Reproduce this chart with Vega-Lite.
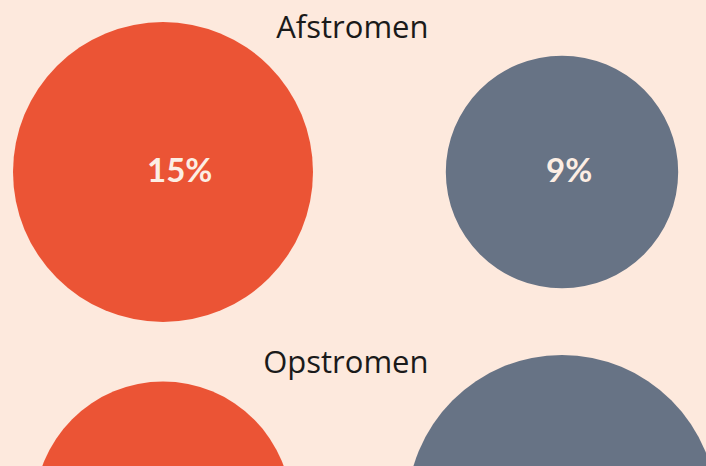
{
  "$schema": "https://vega.github.io/schema/vega-lite/v6.json",
  "width": 706,
  "height": 466,
  "padding": 0,
  "autosize": {"type": "fit", "contains": "padding"},
  "background": "#FDE9DD",
  "config": {"view": {"stroke": null}},
  "data": {
    "values": [
      {"stroom": "Afstromen", "reeks": "A", "waarde": 15, "label": "15%"},
      {"stroom": "Afstromen", "reeks": "B", "waarde": 9, "label": "9%"},
      {"stroom": "Opstromen", "reeks": "A", "waarde": 11, "label": "11%"},
      {"stroom": "Opstromen", "reeks": "B", "waarde": 16, "label": "16%"}
    ]
  },
  "encoding": {
    "y": {"field": "stroom", "type": "nominal", "scale": {"type": "point", "domain": ["Afstromen", "Opstromen"], "range": [172, 510], "padding": 0}, "axis": null}
  },
  "layer": [
    {
      "mark": {"type": "point", "shape": "circle", "filled": true, "opacity": 1, "clip": false},
      "encoding": {
        "x": {"field": "reeks", "type": "nominal", "scale": {"type": "point", "domain": ["A", "B"], "range": [163, 562], "padding": 0}, "axis": null},
        "size": {"field": "waarde", "type": "quantitative", "scale": {"domain": [0, 15], "range": [0, 90000], "zero": true}, "legend": null},
        "color": {"field": "reeks", "type": "nominal", "scale": {"domain": ["A", "B"], "range": ["#EB5435", "#677385"]}, "legend": null}
      }
    },
    {
      "transform": [{"filter": "datum.stroom === 'Afstromen'"}],
      "mark": {"type": "text", "font": "Lato", "fontSize": 33, "fontWeight": "bold", "color": "#FCEEE4", "baseline": "middle", "align": "left", "dx": -16},
      "encoding": {
        "x": {"field": "reeks", "type": "nominal", "scale": {"type": "point", "domain": ["A", "B"], "range": [163, 562], "padding": 0}, "axis": null},
        "text": {"field": "label"}
      }
    },
    {
      "transform": [{"filter": "datum.reeks === 'A' && datum.stroom === 'Afstromen'"}],
      "mark": {"type": "text", "font": "Open Sans", "fontSize": 31, "color": "#1A1A1A", "baseline": "alphabetic", "align": "right", "dx": 81, "dy": -134},
      "encoding": {"text": {"field": "stroom"}}
    },
    {
      "transform": [{"filter": "datum.reeks === 'A' && datum.stroom === 'Opstromen'"}],
      "mark": {"type": "text", "font": "Open Sans", "fontSize": 31, "color": "#1A1A1A", "baseline": "alphabetic", "align": "right", "dx": 81, "dy": -137},
      "encoding": {"text": {"field": "stroom"}}
    }
  ]
}
